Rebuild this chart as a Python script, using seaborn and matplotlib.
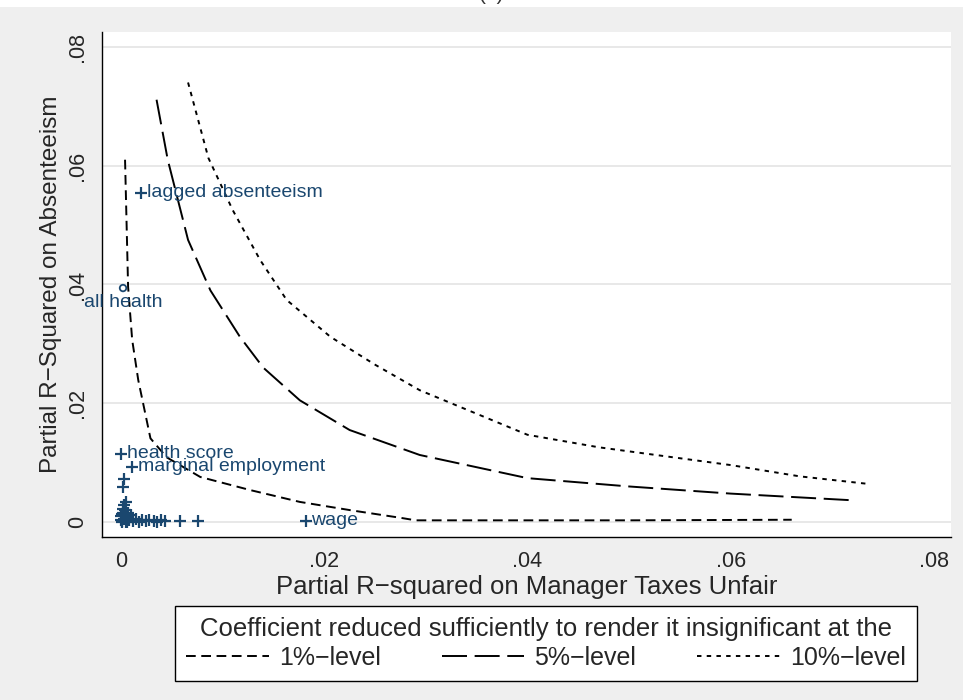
import pandas as pd
import matplotlib
matplotlib.use('Agg')
import matplotlib.pyplot as plt
import seaborn as sns
from matplotlib.lines import Line2D
from matplotlib.patches import Rectangle

# threshold curves
levels = ['1%\u2212level', '5%\u2212level', '10%\u2212level']
x_1pct = [0.0004, 0.0007, 0.0011, 0.0017, 0.0029, 0.0045, 0.0078, 0.0127, 0.0176, 0.0226, 0.0276, 0.0290, 0.0400, 0.0500, 0.0660]
y_1pct = [0.0610, 0.0396, 0.0307, 0.0239, 0.0141, 0.0109, 0.0076, 0.0054, 0.0034, 0.0020, 0.0007, 0.0003, 0.0003, 0.0003, 0.0004]
x_5pct = [0.0035, 0.0046, 0.0066, 0.0088, 0.0117, 0.0140, 0.0176, 0.0225, 0.0294, 0.0400, 0.0500, 0.0600, 0.0717]
y_5pct = [0.0711, 0.0610, 0.0475, 0.0390, 0.0312, 0.0260, 0.0205, 0.0155, 0.0113, 0.0074, 0.0060, 0.0048, 0.0037]
x_10pct = [0.0066, 0.0086, 0.0110, 0.0137, 0.0163, 0.0206, 0.0250, 0.0294, 0.0400, 0.0470, 0.0600, 0.0668, 0.0737]
y_10pct = [0.0740, 0.0613, 0.0525, 0.0441, 0.0374, 0.0312, 0.0265, 0.0222, 0.0147, 0.0126, 0.0096, 0.0077, 0.0064]

# covariates
lab_names = ['lagged absenteeism', 'health score', 'marginal employment', 'wage']
lab_x = [0.0020, 0.0000, 0.0011, 0.0182]
lab_y = [0.0554, 0.0115, 0.0093, 0.0002]
allh_x = [0.0002]
allh_y = [0.0394]
other_x = [0.0000, 0.0001, 0.0002, 0.0003, 0.0004, 0.0005, 0.0006, 0.0003, 0.0005, 0.0002, 0.0003,
           0.0008, 0.0010, 0.0012, 0.0015, 0.0018, 0.0021, 0.0025, 0.0028, 0.0032, 0.0035, 0.0039,
           0.0043, 0.0058, 0.0076, 0.0001, 0.0007, 0.0004, 0.0000, 0.0002, 0.0006, 0.0001]
other_y = [0.0010, 0.0002, 0.0015, 0.0005, 0.0020, 0.0001, 0.0008, 0.0028, 0.0034, 0.0059, 0.0072,
           0.0003, 0.0012, 0.0002, 0.0005, 0.0001, 0.0003, 0.0002, 0.0004, 0.0002, 0.0001, 0.0003,
           0.0002, 0.0002, 0.0002, 0.0000, 0.0016, 0.0011, 0.0004, 0.0022, 0.0001, 0.0013]

xticks = [0, 0.02, 0.04, 0.06, 0.08]
xtick_labels = ['0', '.02', '.04', '.06', '.08']
yticks = [0, 0.02, 0.04, 0.06, 0.08]
ytick_labels = ['0', '.02', '.04', '.06', '.08']

sns.set_style('white')
plt.rcParams['font.family'] = ['Liberation Sans', 'DejaVu Sans']
plt.rcParams['lines.scale_dashes'] = False

navy = '#1a476f'
dash_map = {levels[0]: (7, 4), levels[1]: (18, 5.5), levels[2]: (3.2, 3.8)}

curves = pd.DataFrame({
    'x': x_1pct + x_5pct + x_10pct,
    'y': y_1pct + y_5pct + y_10pct,
    'level': [levels[0]] * len(x_1pct) + [levels[1]] * len(x_5pct) + [levels[2]] * len(x_10pct),
})

fig = plt.figure(figsize=(9.63, 7), dpi=100, facecolor='#efefef')
fig.patches.append(Rectangle((0, 693 / 700), 1, 7 / 700, transform=fig.transFigure,
                             facecolor='white', edgecolor='none', zorder=0))
fig.text(0.51, 0.9995, '(a)', ha='center', va='baseline', fontsize=15, color='#333333')

ax = fig.add_axes([0.1059, 0.2329, 0.8816, 0.7214])
ax.set_facecolor('white')

sns.lineplot(data=curves, x='x', y='y', style='level', dashes=dash_map, color='black',
             linewidth=1.4, sort=False, estimator=None, legend=False, ax=ax)

sns.scatterplot(x=other_x + lab_x, y=other_y + lab_y, marker='+', color=navy, s=80,
                linewidth=1.6, ax=ax, zorder=3)
sns.scatterplot(x=allh_x, y=allh_y, marker='o', facecolor='none', edgecolor=navy, s=22,
                linewidth=1.3, ax=ax, zorder=3)

for name, xv, yv in zip(lab_names, lab_x, lab_y):
    ax.annotate(name, (xv, yv), xytext=(4, 0), textcoords='offset points', ha='left',
                va='center', color=navy, fontsize=14)
ax.annotate('all health', (allh_x[0], allh_y[0]), xytext=(0, -4), textcoords='offset points',
            ha='center', va='top', color=navy, fontsize=14)

ax.set_xlim(-0.00187, 0.08167)
ax.set_ylim(-0.0025, 0.0825)
ax.set_xticks(xticks)
ax.set_xticklabels(xtick_labels, fontsize=15.5)
ax.set_yticks(yticks)
ax.set_yticklabels(ytick_labels, fontsize=15.5, rotation=90, va='center')
ax.tick_params(direction='out', length=7, width=1, color='black', pad=3)
ax.set_xlabel('Partial R\u2212squared on Manager Taxes Unfair', fontsize=18.5, labelpad=2)
ax.set_ylabel('Partial R\u2212Squared on Absenteeism', fontsize=17.5, labelpad=4)

ax.yaxis.grid(True, color='#e6e6e6', linewidth=1.3)
ax.xaxis.grid(False)
ax.set_axisbelow(True)
for side in ['top', 'right']:
    ax.spines[side].set_visible(False)
for side in ['left', 'bottom']:
    ax.spines[side].set_color('black')
    ax.spines[side].set_linewidth(1.0)

handles = [Line2D([0], [0], color='black', lw=1.4, dashes=dash_map[lv]) for lv in levels]
leg = fig.legend(handles, levels, ncol=3, loc='lower left', mode='expand',
                 bbox_to_anchor=(0.1817, 0.0271, 0.7705, 0.1028), borderaxespad=0,
                 title='Coefficient reduced sufficiently to render it insignificant at the',
                 fontsize=18, title_fontsize=18.5, frameon=True, fancybox=False,
                 handlelength=3.3, handletextpad=0.4, borderpad=0.45, labelspacing=0.2)
leg.get_frame().set_edgecolor('black')
leg.get_frame().set_linewidth(1.0)
leg.get_frame().set_alpha(1)

fig.savefig('out.png', dpi=100, facecolor=fig.get_facecolor())
